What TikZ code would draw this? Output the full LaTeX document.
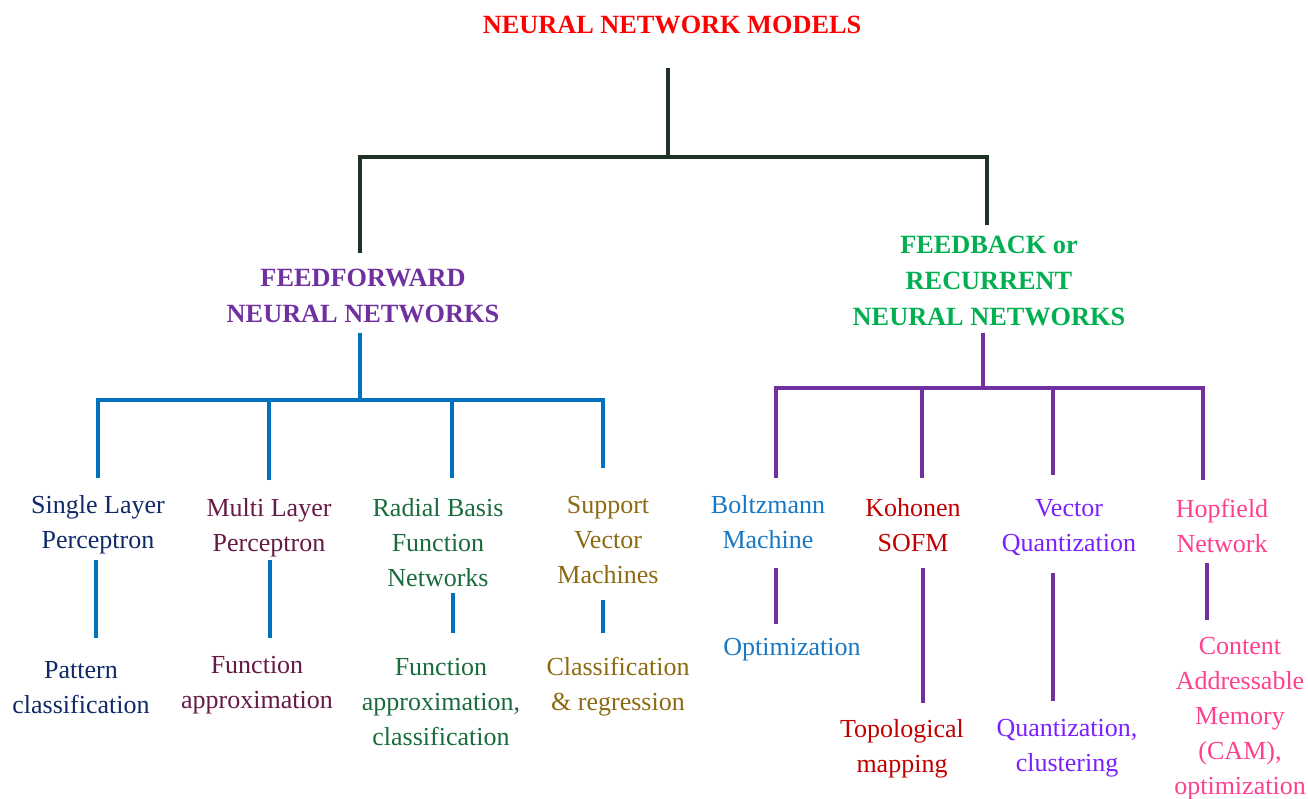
\documentclass[tikz,border=0pt]{standalone}
\usepackage{fontspec}
\setmainfont{Liberation Serif}
\definecolor{titlered}{HTML}{FF0000}
\definecolor{stemdark}{HTML}{1F3324}
\definecolor{ffpurple}{HTML}{7030A0}
\definecolor{fbgreen}{HTML}{00B050}
\definecolor{ffblue}{HTML}{0070C0}
\definecolor{navy}{HTML}{0F2A66}
\definecolor{maroon}{HTML}{651A46}
\definecolor{rbfgreen}{HTML}{1A6B3C}
\definecolor{olive}{HTML}{8C6A12}
\definecolor{boltz}{HTML}{1878C4}
\definecolor{kohred}{HTML}{C00000}
\definecolor{violet}{HTML}{7A20FF}
\definecolor{hoppink}{HTML}{FF3F8F}
% multi-line labels are placed by the baseline of their last line
\tikzset{
  lbl/.style={inner sep=0pt, anchor=base, align=center,
    font=\fontsize{26}{35}\selectfont},
  head/.style={lbl, font=\fontsize{26.3}{36}\selectfont\bfseries},
  wire/.style={line width=4pt},
}
\begin{document}
\begin{tikzpicture}[x=1pt,y=-1pt]
\useasboundingbox (0,0) rectangle (1308,798);

% headings
\node[head, text=titlered] (root) at (672,33) {NEURAL NETWORK MODELS};
\node[head, text=ffpurple] (ff) at (363,322) {FEEDFORWARD\\NEURAL NETWORKS};
\node[head, text=fbgreen] (fb) at (989,325) {FEEDBACK or\\RECURRENT\\NEURAL NETWORKS};

% feedforward models
\node[lbl, text=navy] (slp) at (98,548) {Single Layer\\Perceptron};
\node[lbl, text=maroon] (mlp) at (269,551) {Multi Layer\\Perceptron};
\node[lbl, text=rbfgreen] (rbf) at (438,586) {Radial Basis\\Function\\Networks};
\node[lbl, text=olive] (svm) at (608,583) {Support\\Vector\\Machines};

% feedback models
\node[lbl, text=boltz] (bm) at (768,548) {Boltzmann\\Machine};
\node[lbl, text=kohred] (koh) at (913,551) {Kohonen\\SOFM};
\node[lbl, text=violet] (vq) at (1069,551) {Vector\\Quantization};
\node[lbl, text=hoppink] (hop) at (1222,552) {Hopfield\\Network};

% applications
\node[lbl, text=navy] (slpapp) at (81,713) {Pattern\\classification};
\node[lbl, text=maroon] (mlpapp) at (257,708) {Function\\approximation};
\node[lbl, text=rbfgreen] (rbfapp) at (441,745) {Function\\approximation,\\classification};
\node[lbl, text=olive] (svmapp) at (618,710) {Classification\\\& regression};
\node[lbl, text=boltz] (bmapp) at (792,655) {Optimization};
\node[lbl, text=kohred] (kohapp) at (902,772) {Topological\\mapping};
\node[lbl, text=violet] (vqapp) at (1067,771) {Quantization,\\clustering};
\node[lbl, text=hoppink] (hopapp) at (1240,794) {Content\\Addressable\\Memory\\(CAM),\\optimization};

% junction points of the tree
\coordinate (r0) at (668,68);
\coordinate (r1) at (668,157);
\coordinate (rl) at (360,157);
\coordinate (rr) at (987,157);
\coordinate (ffin) at (360,253);
\coordinate (fbin) at (987,225);

\coordinate (ffout) at (360,333);
\coordinate (ffbus) at (360,400);
\coordinate (fbout) at (983,333);
\coordinate (fbbus) at (983,388);

% upper ends of the drops to each model
\coordinate (slpin) at (98,478);
\coordinate (mlpin) at (269,480);
\coordinate (rbfin) at (452,478);
\coordinate (svmin) at (603,468);
\coordinate (bmin) at (776,478);
\coordinate (kohin) at (922,478);
\coordinate (vqin) at (1053,475);
\coordinate (hopin) at (1203,480);

% ends of the model-to-application links
\coordinate (slpa) at (96,560);   \coordinate (slpb) at (96,638);
\coordinate (mlpa) at (270,560);  \coordinate (mlpb) at (270,638);
\coordinate (rbfa) at (453,593);  \coordinate (rbfb) at (453,633);
\coordinate (svma) at (603,600);  \coordinate (svmb) at (603,633);
\coordinate (bma) at (776,568);   \coordinate (bmb) at (776,624);
\coordinate (koha) at (923,568);  \coordinate (kohb) at (923,703);
\coordinate (vqa) at (1053,573);  \coordinate (vqb) at (1053,701);
\coordinate (hopa) at (1207,563); \coordinate (hopb) at (1207,620);

% root branches
\draw[wire, stemdark] (r0) -- (r1);
\draw[wire, stemdark] (ffin) -- (rl) -- (rr) -- (fbin);

% feedforward branches
\draw[wire, ffblue] (ffout) -- (ffbus);
\draw[wire, ffblue] (slpin) -- (slpin |- ffbus) -- (svmin |- ffbus) -- (svmin);
\draw[wire, ffblue] (mlpin) -- (mlpin |- ffbus);
\draw[wire, ffblue] (rbfin) -- (rbfin |- ffbus);

% feedback branches
\draw[wire, ffpurple] (fbout) -- (fbbus);
\draw[wire, ffpurple] (bmin) -- (bmin |- fbbus) -- (hopin |- fbbus) -- (hopin);
\draw[wire, ffpurple] (kohin) -- (kohin |- fbbus);
\draw[wire, ffpurple] (vqin) -- (vqin |- fbbus);

% model-to-application links
\foreach \n in {slp, mlp, rbf, svm}
  \draw[wire, ffblue] (\n a) -- (\n b);
\foreach \n in {bm, koh, vq, hop}
  \draw[wire, ffpurple] (\n a) -- (\n b);
\end{tikzpicture}
\end{document}
